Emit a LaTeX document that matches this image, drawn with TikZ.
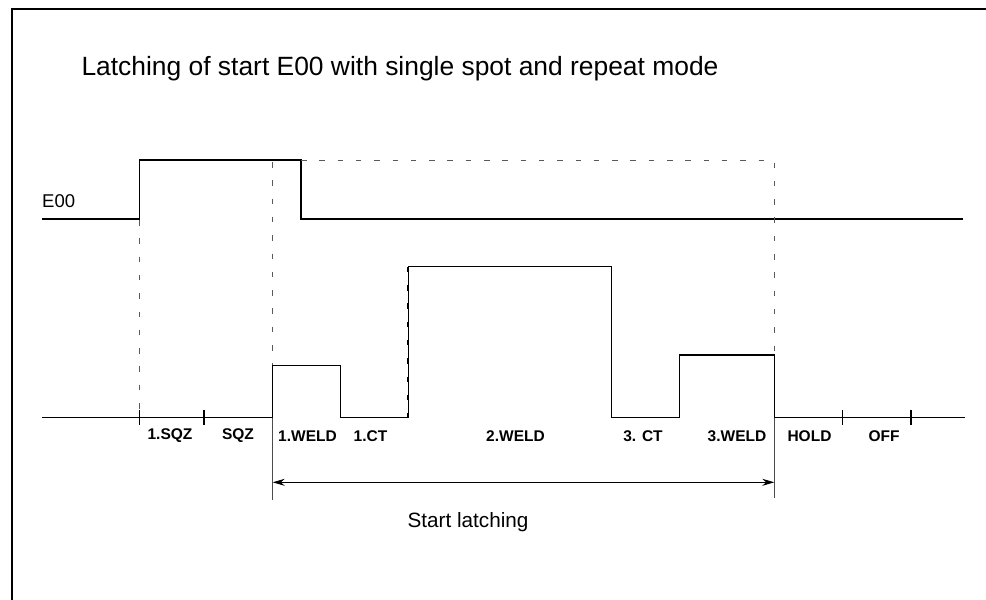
\documentclass[tikz,border=0pt]{standalone}
\usepackage{fontspec}
\setmainfont{Liberation Sans}
\usetikzlibrary{arrows.meta}
\begin{document}
\begin{tikzpicture}[x=1pt,y=-1pt,
  frame/.style={line width=2pt,black},
  sig/.style={line width=1.8pt,black,line join=miter},
  pulse/.style={line width=1.4pt,black,line join=miter},
  guide/.style={line width=1pt,black!65,dash pattern=on 5.5pt off 12.8pt},
  edgeguide/.style={line width=2pt,black,dash pattern=on 5.5pt off 12.8pt},
  marker/.style={line width=1pt,black!70},
  tick/.style={line width=1.4pt,black},
  dim/.style={line width=0.9pt,black,{Stealth[length=12pt,width=7pt]}-{Stealth[length=12pt,width=7pt]}},
  phase/.style={font=\fontsize{15.5}{18}\selectfont\bfseries,inner sep=0pt},
  caption/.style={font=\fontsize{21.7}{26}\selectfont,inner sep=0pt}]
\useasboundingbox (0,0) rectangle (986,600);

% outer frame (top and left edges)
\draw[frame] (12,600) -- (12,9) -- (986,9);

% title
\node[caption,font=\fontsize{26.4}{30}\selectfont] (title) at (400,69) {Latching of start E00 with single spot and repeat mode};

% start signal E00
\node[caption,anchor=west,font=\fontsize{18.5}{22}\selectfont] (e00) at (42,201) {E00};
\coordinate (e0) at (42,218.7);
\coordinate (eup) at (139.5,218.7);
\coordinate (ehi) at (139.5,160);
\coordinate (edn) at (301,160);
\coordinate (elo) at (301,218.7);
\coordinate (e1) at (963,218.7);
\draw[sig] (e0) -- (eup) -- (ehi) -- (edn) -- (elo) -- (e1);

% weld current sequence
\coordinate (b0) at (42,417.7);
\coordinate (r1) at (272.7,417.7);
\coordinate (t1) at (272.7,365.3);
\coordinate (f1) at (340.7,365.3);
\coordinate (g1) at (340.7,417.7);
\coordinate (r2) at (408.3,417.7);
\coordinate (t2) at (408.3,266.7);
\coordinate (f2) at (611.7,266.7);
\coordinate (g2) at (611.7,417.7);
\coordinate (r3) at (679.3,417.7);
\coordinate (t3) at (679.3,355);
\coordinate (f3) at (774.3,355);
\coordinate (g3) at (774.3,417.7);
\coordinate (b1) at (965,417.7);
\draw[pulse] (b0) -- (r1) -- (t1) -- (f1) -- (g1) -- (r2) -- (t2) -- (f2) -- (g2)
  -- (r3) -- (t3) -- (f3) -- (g3) -- (b1);
\draw[edgeguide] (t2) -- (r2);

% phase boundaries on the time axis
\foreach \x in {139.5,204,842.7,911}
  \draw[tick] (\x,410) -- (\x,425);

% dashed guides
\coordinate (lt) at (774.3,160);
\draw[guide] (139.5,220) -- (139.5,417.7);
\draw[guide] (272.7,162) -- (t1);
\draw[guide] (edn) -- (lt) -- (f3);

% latching interval
\coordinate (m1) at (272.7,500);
\coordinate (m2) at (774.3,498);
\draw[marker] (r1) -- (m1);
\draw[marker] (g3) -- (m2);
\coordinate (a1) at (272.7,482.3);
\coordinate (a2) at (774.3,482.3);
\draw[dim] (a1) -- (a2);
\node[caption,font=\fontsize{20.7}{24}\selectfont] (latch) at (468,522) {Start latching};

% phase names
\node[phase] (p1) at (170,436) {1.SQZ};
\node[phase] (p2) at (238,436) {SQZ};
\node[phase] (p3) at (307.5,436) {1.WELD};
\node[phase] (p4) at (370.5,436) {1.CT};
\node[phase] (p5) at (515.5,436) {2.WELD};
\node[phase] (p6) at (643,436) {3. CT};
\node[phase] (p7) at (737,436) {3.WELD};
\node[phase] (p8) at (809.5,436) {HOLD};
\node[phase] (p9) at (884,436) {OFF};
\end{tikzpicture}
\end{document}
